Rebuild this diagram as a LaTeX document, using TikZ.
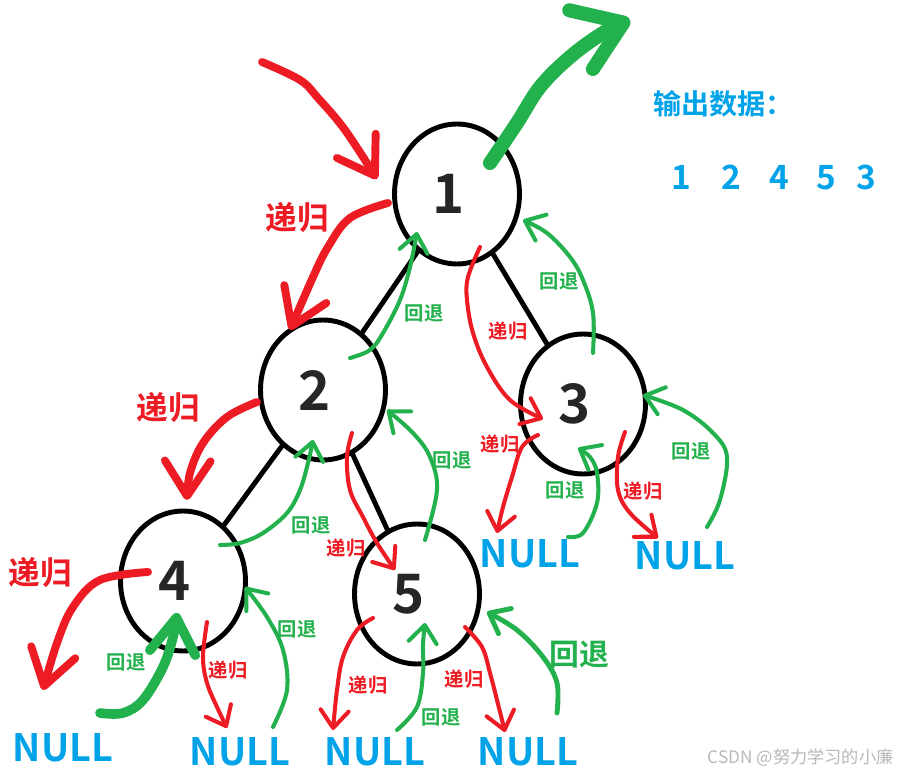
\documentclass[tikz,border=0pt]{standalone}
\usepackage{fontspec}
\newfontfamily\cjk{Noto Sans CJK SC}[BoldFont={Noto Sans CJK SC Bold}]
\usepackage{xcolor}
\usetikzlibrary{calc, shapes.geometric, arrows.meta}

\definecolor{pred}{HTML}{ED1C24}
\definecolor{pgreen}{HTML}{22B14C}
\definecolor{pblue}{HTML}{00A2E8}

\tikzset{
  digit/.style={font=\cjk\bfseries\fontsize{31}{31}\selectfont, text=black!85},
  nd/.style={ellipse, draw, line width=2.8pt, minimum width=2.5cm, minimum height=2.8cm,
    inner sep=0pt, label={[digit, xshift=-5pt]center:#1}},
  edge/.style={line width=2.8pt},
  rec/.style={draw=pred, line width=2.3pt, -{Straight Barb[length=10pt, width=16pt, round]}},
  recbig/.style={draw=pred, line width=4.5pt, -{Straight Barb[length=20pt, width=26pt, round]}},
  back/.style={draw=pgreen, line width=2.3pt, -{Straight Barb[length=10pt, width=16pt, round]}},
  backbig/.style={draw=pgreen, line width=5.5pt, -{Straight Barb[length=20pt, width=26pt, round]}},
  tred/.style={text=pred, font=\cjk\bfseries\fontsize{11}{11}\selectfont, inner sep=0pt},
  tredbig/.style={text=pred, font=\cjk\bfseries\fontsize{18}{18}\selectfont, inner sep=0pt},
  tgreen/.style={text=pgreen, font=\cjk\bfseries\fontsize{11}{11}\selectfont, inner sep=0pt},
  null/.style={text=pblue, font=\cjk\bfseries\fontsize{21.5}{21.5}\selectfont, inner sep=0pt},
}

\begin{document}
\begin{tikzpicture}[x=0.02cm, y=-0.02cm, line cap=round, line join=round]
    \useasboundingbox (0,0) rectangle (900,773);

    % 结点
    \node[nd=1] (n1) at (457,194) {};
    \node[nd=2] (n2) at (323,390) {};
    \node[nd=3] (n3) at (583,404) {};
    \node[nd=4] (n4) at (183,581) {};
    \node[nd=5] (n5) at (417,594) {};

    \draw[edge] (n1) -- (n2);
    \draw[edge] (n1) -- (n3);
    \draw[edge] (n2) -- (n4);
    \draw[edge] (n2) -- (n5);

    % 空结点
    \node[null] (nl4) at (63,748) {NULL};
    \node[null] (nr4) at (240,752) {NULL};
    \node[null] (nl5) at (375,752) {NULL};
    \node[null] (nr5) at (528,752) {NULL};
    \node[null] (nl3) at (530,554) {NULL};
    \node[null] (nr3) at (685,556) {NULL};

    % 输出
    \node[text=pblue, font=\cjk\bfseries\fontsize{16}{16}\selectfont, anchor=west, inner sep=0pt] (out) at (653,104) {输出数据：};
    \node[text=pblue, font=\cjk\bfseries\fontsize{19}{19}\selectfont, anchor=west, inner sep=0pt] (seq) at (671,177)
       {1\kern.9em2\kern.85em4\kern.82em5\kern.62em3};

    \coordinate (in) at (262,62);
    \coordinate (up) at (630,20);

    % 递归
    \draw[recbig] plot[smooth, tension=.6] coordinates {(in) (300,80) (318,98) (345,130) ($(n1)+(-80,-15)$)};
    \draw[recbig] plot[smooth, tension=.6] coordinates {($(n1)+(-69,9)$) (350,218) (328,247) (313,277) ($(n2)+(-33,-60)$)};
    \draw[recbig] plot[smooth, tension=.6] coordinates {($(n2)+(-66,12)$) (227,417) (203,443) (190,473) ($(n4)+(4,-81)$)};
    \draw[recbig] plot[smooth, tension=.6] coordinates {($(n4)+(-35,-9)$) (100,580) (73,607) (57,643) ($(nl4)+(-20,-58)$)};
    \draw[rec] plot[smooth, tension=.6] coordinates {($(n1)+(23,53)$) (468,277) (467,300) (473,333) (487,367) (510,400) ($(n3)+(-40,15)$)};
    \draw[rec] plot[smooth, tension=.6] coordinates {($(n3)+(-45,31)$) (522,447) (512,477) (503,507) ($(nl3)+(-33,-21)$)};
    \draw[rec] plot[smooth, tension=.6] coordinates {($(n3)+(42,28)$) (618,457) (618,490) (630,513) ($(nr3)+(-27,-18)$)};
    \draw[rec] plot[smooth, tension=.6] coordinates {($(n2)+(29,43)$) (347,457) (350,490) (363,517) (377,543) ($(n5)+(-22,-24)$)};
    \draw[rec] plot[smooth, tension=.6] coordinates {($(n4)+(24,41)$) (203,657) (207,683) (217,707) ($(nr4)+(-13,-24)$)};
    \draw[rec] plot[smooth, tension=.6] coordinates {($(n5)+(-44,24)$) (357,630) (343,657) (337,690) ($(nl5)+(-42,-22)$)};
    \draw[rec] plot[smooth, tension=.6] coordinates {($(n5)+(48,33)$) (482,647) (490,673) (497,700) ($(nr5)+(-23,-20)$)};

    % 回退
    \draw[back] plot[smooth, tension=.6] coordinates {($(n2)+(27,-32)$) (370,350) (383,333) (400,300) (410,267) ($(n1)+(-40,38)$)};
    \draw[back] plot[smooth, tension=.6] coordinates {($(n3)+(10,-51)$) (593,313) (583,280) (570,257) (547,233) ($(n1)+(66,26)$)};
    \draw[draw=pgreen, line width=8pt, -{Straight Barb[length=26pt, width=36pt, round]}]
       plot[smooth, tension=.6] coordinates {($(n1)+(33,-31)$) (517,123) (540,87) (570,57) (603,33) (up)};
    \draw[back] plot[smooth, tension=.6] coordinates {($(n5)+(8,-54)$) (437,490) (430,457) (413,433) ($(n2)+(64,20)$)};
    \draw[back] plot[smooth, tension=.6] coordinates {($(n4)+(37,-36)$) (240,543) (263,533) (287,513) (300,490) (308,463) ($(n2)+(-10,50)$)};
    \draw[backbig] plot[smooth, tension=.6] coordinates {($(nl4)+(37,-35)$) (123,713) (143,700) (163,667) (173,637) ($(n4)+(-6,32)$)};
    \draw[back] plot[smooth, tension=.6] coordinates {($(nr4)+(33,-25)$) (287,690) (283,650) (267,617) ($(n4)+(62,6)$)};
    \draw[back] plot[smooth, tension=.6] coordinates {($(nl5)+(22,-22)$) (417,707) (423,673) (423,645) ($(n5)+(8,29)$)};
    \draw[back, line width=2.8pt] plot[smooth, tension=.6] coordinates {($(nr5)+(29,-39)$) (557,683) (543,657) (517,630) ($(n5)+(70,18)$)};
    \draw[back] plot[smooth, tension=.6] coordinates {($(nl3)+(38,-17)$) (583,533) (597,503) (597,473) (590,457) ($(n3)+(-5,44)$)};
    \draw[back] plot[smooth, tension=.6] coordinates {($(nr3)+(22,-29)$) (720,500) (727,457) (713,433) (683,410) ($(n3)+(60,-9)$)};

    % 文字
    \node[tredbig] (r1) at (297,218) {递归};
    \node[tredbig] (r2) at (168,408) {递归};
    \node[tredbig] (r3) at (40,573) {递归};
    \node[tred] (r4) at (508,331) {递归};
    \node[tred] (r5) at (500,444) {递归};
    \node[tred] (r6) at (643,491) {递归};
    \node[tred] (r7) at (346,548) {递归};
    \node[tred] (r8) at (228,670) {递归};
    \node[tred] (r9) at (368,685) {递归};
    \node[tred] (r10) at (464,679) {递归};

    \node[tgreen] (g1) at (424,313) {回退};
    \node[tgreen] (g2) at (559,281) {回退};
    \node[tgreen] (g3) at (452,460) {回退};
    \node[tgreen] (g4) at (565,490) {回退};
    \node[tgreen] (g5) at (691,451) {回退};
    \node[tgreen] (g6) at (311,525) {回退};
    \node[tgreen] (g7) at (297,629) {回退};
    \node[tgreen] (g8) at (126,662) {回退};
    \node[tgreen] (g9) at (441,717) {回退};
    \node[tgreen, font=\cjk\bfseries\fontsize{17}{17}\selectfont] (g10) at (579,655) {回退};

    \node[text=black!28, font=\cjk\fontsize{9.8}{9.8}\selectfont, inner sep=0pt, anchor=east] (mark) at (894,758) {CSDN @努力学习的小廉};
\end{tikzpicture}
\end{document}
